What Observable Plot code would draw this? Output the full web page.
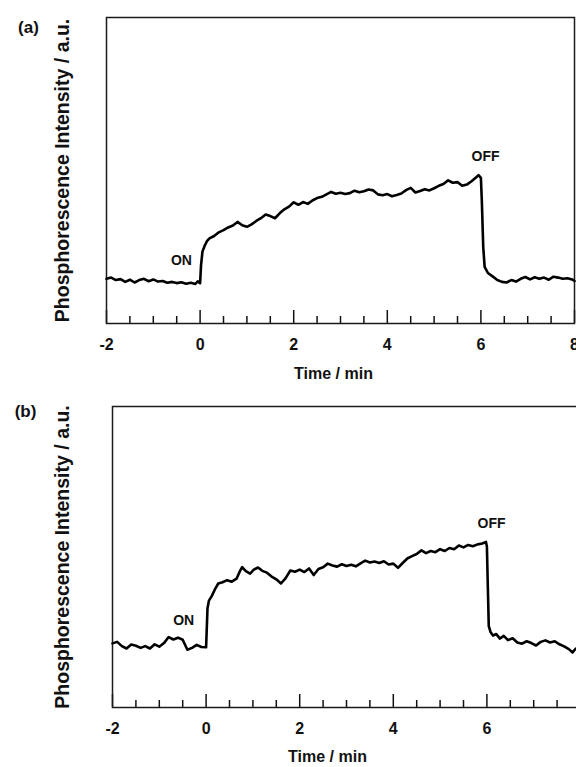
<!DOCTYPE html>
<html><head><meta charset="utf-8">
<script src="https://cdn.jsdelivr.net/npm/d3@7"></script>
<script src="https://cdn.jsdelivr.net/npm/@observablehq/plot@0.6"></script>
<style>
html,body{margin:0;padding:0;background:#fff;overflow:hidden;width:576px;height:767px}
#chart svg{display:block}
</style></head><body><div id="chart"></div>
<script>
// Panel (a) trace
const timeA = [
  -2.0,-1.9,-1.8,-1.7,-1.6,-1.5,-1.4,-1.3,-1.2,-1.1,
  -1.0,-0.9,-0.8,-0.7,-0.6,-0.5,-0.4,-0.3,-0.2,-0.1,
  -0.05,0.0,0.02,0.05,0.1,0.15,0.2,0.3,0.4,0.5,
  0.6,0.7,0.8,0.9,1.0,1.1,1.2,1.3,1.4,1.5,
  1.6,1.7,1.8,1.9,2.0,2.1,2.2,2.3,2.4,2.5,
  2.6,2.7,2.8,2.9,3.0,3.1,3.2,3.3,3.4,3.5,
  3.6,3.7,3.8,3.9,4.0,4.1,4.2,4.3,4.4,4.5,
  4.6,4.7,4.8,4.9,5.0,5.1,5.2,5.3,5.4,5.5,
  5.6,5.7,5.8,5.9,5.95,6.0,6.02,6.05,6.08,6.15,
  6.25,6.35,6.45,6.55,6.65,6.75,6.85,6.95,7.05,7.15,
  7.25,7.35,7.45,7.55,7.65,7.75,7.85,7.95,8.0
];
const intensityA = [
  14.6,15.0,14.2,14.5,13.6,14.3,13.4,14.2,14.6,13.8,
  14.4,13.7,13.9,13.3,13.6,13.2,13.5,13.0,13.3,12.9,
  13.8,13.2,19.0,23.5,25.5,27.0,27.8,28.6,29.8,30.5,
  31.4,32.0,33.2,32.1,31.6,32.4,33.5,34.4,35.6,35.1,
  34.4,36.0,37.3,38.2,39.6,38.8,39.7,39.1,40.2,41.0,
  41.4,42.2,43.0,42.4,42.7,42.3,42.6,43.4,42.9,43.2,
  43.8,43.5,42.2,41.9,42.3,41.6,42.0,42.5,43.6,44.3,
  42.8,43.3,43.9,43.5,44.2,45.0,45.6,46.8,46.0,46.2,
  45.0,45.4,46.5,47.8,48.5,47.6,40.0,25.0,18.5,16.5,
  15.4,14.2,13.6,13.4,14.2,13.7,14.6,15.2,14.4,15.1,
  14.6,15.0,14.3,15.3,15.0,14.6,14.8,14.4,13.9
];
// Panel (b) trace
const timeB = [
  -2.0,-1.9,-1.8,-1.7,-1.6,-1.5,-1.4,-1.3,-1.2,-1.1,
  -1.0,-0.9,-0.8,-0.7,-0.6,-0.5,-0.4,-0.3,-0.2,-0.1,
  0.0,0.03,0.06,0.12,0.2,0.26,0.35,0.45,0.55,0.65,
  0.72,0.77,0.85,0.94,1.02,1.11,1.2,1.3,1.4,1.5,
  1.6,1.7,1.8,1.9,2.0,2.1,2.2,2.3,2.4,2.5,
  2.6,2.7,2.8,2.9,3.0,3.1,3.2,3.3,3.4,3.5,
  3.6,3.7,3.8,3.9,4.0,4.1,4.2,4.3,4.4,4.5,
  4.6,4.7,4.8,4.9,5.0,5.1,5.2,5.3,5.4,5.5,
  5.6,5.7,5.8,5.9,5.98,6.0,6.02,6.04,6.08,6.13,
  6.2,6.28,6.36,6.45,6.55,6.65,6.75,6.85,6.95,7.05,
  7.15,7.25,7.35,7.45,7.55,7.65,7.75,7.83,7.9,8.0
];
const intensityB = [
  21.3,21.8,20.4,19.6,20.9,20.5,19.8,20.4,19.6,21.0,
  20.2,21.4,23.4,22.6,23.2,22.5,19.2,19.8,20.8,20.1,
  20.0,33.0,35.5,37.0,39.6,41.2,41.6,42.3,41.8,42.8,
  45.2,46.6,45.3,44.5,45.8,46.5,45.4,44.8,43.5,42.6,
  41.2,43.0,45.5,45.1,45.8,45.0,46.2,44.0,46.0,46.6,
  47.8,47.2,46.8,47.6,47.0,47.4,46.9,47.9,48.8,48.2,
  48.5,48.0,48.6,47.5,47.8,46.4,48.0,49.5,50.3,51.0,
  52.2,51.3,52.0,51.6,52.6,52.0,53.0,52.6,53.8,53.2,
  54.0,53.6,54.2,54.5,55.0,53.5,40.0,27.0,25.0,23.9,
  24.4,22.9,23.8,22.4,23.0,21.6,21.2,22.0,21.4,20.6,
  21.8,22.3,21.6,22.0,21.0,20.3,19.4,18.3,19.6,19.0
];
const majorTicks = [-2,0,2,4,6,8];
const minorTicks = [-1.5,-1,-0.5,0.5,1,1.5,2.5,3,3.5,4.5,5,5.5,6.5,7,7.5];
const panelLabels = ["(a)","(b)"];
const axisTitleX = "Time / min";
const axisTitleY = "Phosphorescence Intensity / a.u.";
const annotationText = ["ON","OFF"];
const annotationTimeA = [-0.40, 6.10];
const annotationIntensityA = [20.6, 54.6];
const annotationTimeB = [-0.48, 6.10];
const annotationIntensityB = [28.9, 61.1];

const FONT = "Liberation Sans, Arial, Helvetica, sans-serif";

function panel(o) {
  const data = o.time.map((t, i) => ({t, v: o.intensity[i]}));
  const ann = annotationText.map((s, i) => ({s, t: o.annX[i], v: o.annY[i]}));
  return Plot.plot({
    width: 576, height: o.height,
    marginTop: o.marginTop, marginBottom: o.marginBottom,
    marginLeft: o.marginLeft, marginRight: o.marginRight,
    style: {fontFamily: FONT, color: "#111", background: "white", overflow: "hidden"},
    x: {domain: [-2, 8]},
    y: {domain: [0, 100], axis: null},
    marks: [
      Plot.axisX(minorTicks, {tickSize: -7, tickFormat: () => "", strokeWidth: 1.5, label: null}),
      Plot.axisX(majorTicks, {tickSize: -13, tickFormat: () => "", strokeWidth: 1.5, label: null}),
      Plot.axisX(majorTicks, {tickSize: 0, tickPadding: 15, fontSize: 16, fontWeight: "bold", label: null, tickFormat: d => String(d)}),
      Plot.frame({stroke: "#1a1a1a", strokeWidth: 1.5}),
      Plot.line(data, {x: "t", y: "v", stroke: "#000", strokeWidth: 2.6, strokeLinejoin: "round"}),
      Plot.text(ann, {x: "t", y: "v", text: "s", fontSize: 14, fontWeight: "bold", fill: "#111"}),
      Plot.text([o.label], {text: d => d, frameAnchor: "top-left", textAnchor: "middle", lineAnchor: "middle", dx: o.labelDx, dy: o.labelDy, fontSize: 17, fontWeight: "bold", fill: "#111"}),
      Plot.text([axisTitleX], {text: d => d, frameAnchor: "bottom", lineAnchor: "middle", dx: o.titleDx, dy: o.titleDy, fontSize: 16, fontWeight: "bold", fill: "#111"}),
      Plot.text([axisTitleY], {text: d => d, frameAnchor: "left", textAnchor: "middle", lineAnchor: "middle", dx: o.yTitleDx, rotate: -90, fontSize: 19.5, fontWeight: "bold", fill: "#111"})
    ]
  });
}

const root = document.getElementById("chart");
root.appendChild(panel({
  time: timeA, intensity: intensityA, annX: annotationTimeA, annY: annotationIntensityA,
  label: panelLabels[0], height: 390, marginTop: 17, marginBottom: 67, marginLeft: 106, marginRight: 2,
  labelDx: -78, labelDy: 10, titleDx: -7, titleDy: 50, yTitleDx: -44
}));
root.appendChild(panel({
  time: timeB, intensity: intensityB, annX: annotationTimeB, annY: annotationIntensityB,
  label: panelLabels[1], height: 377, marginTop: 16, marginBottom: 60, marginLeft: 112, marginRight: -4,
  labelDx: -87, labelDy: 5, titleDx: -19, titleDy: 49, yTitleDx: -50
}));
</script></body></html>
